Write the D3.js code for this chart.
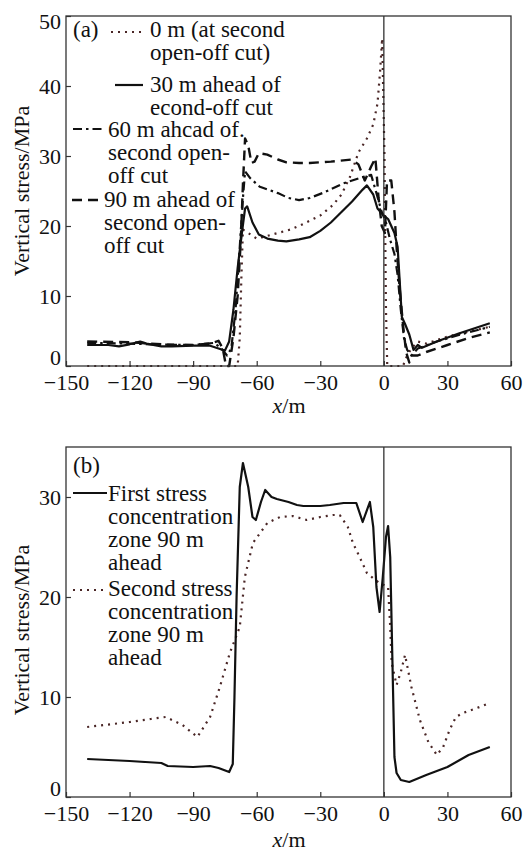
<!DOCTYPE html>
<html>
<head>
<meta charset="utf-8">
<script src="https://cdn.jsdelivr.net/npm/d3@7/dist/d3.min.js"></script>
<style>
    body { margin: 0; background: #fff; }
    text { font-family: "Liberation Serif", "Times New Roman", serif; fill: #111; }
</style>
</head>
<body>
<svg id="chart" width="529" height="852"></svg>
<script>
const xTicks = [-150, -120, -90, -60, -30, 0, 30, 60];
const yTicksA = [0, 10, 20, 30, 40, 50];
const yTicksB = [0, 10, 20, 30];

// panel (a)
const at0m = [[-140,0],[-120,0],[-100,0],[-80,0],[-69,0],[-68,4],[-67.3,12],[-66.5,19.5],[-64,19],[-60,18.2],[-56,18.5],[-50,19],[-44,19.5],[-38,20.3],[-30,21.5],[-24,23],[-20,24.5],[-16,27],[-12,30.5],[-8,32.5],[-5,34.5],[-3,37.5],[-1.8,42],[-0.8,46.8],[0.3,30],[1,8],[1.6,0],[9,0],[11,1.5],[13,2.5],[16,3.5],[20,3.2],[30,4.2],[40,4.9],[50,5.6]];
const at30m = [[-140,3.0],[-130,3.0],[-125,2.8],[-120,3.1],[-115,3.5],[-112,3.2],[-105,2.8],[-100,2.8],[-90,2.9],[-82,2.9],[-78,2.5],[-75,2.2],[-73,3.5],[-71,8],[-69,14],[-67,19],[-65.5,22.5],[-64.5,22.8],[-62,20.5],[-59,18.8],[-55,18.2],[-50,17.9],[-46,17.8],[-40,18.1],[-35,18.4],[-30,19.3],[-25,20.5],[-20,22],[-15,23.5],[-10,25.2],[-8,25.8],[-5,24.5],[-3,22.5],[0,21.5],[2,21],[5,19],[6.5,17],[7.5,12],[8.5,7],[10,6],[12,4.5],[14,2.3],[16,3],[18,2.6],[25,3.5],[35,4.6],[45,5.6],[50,6.1]];
const at60m = [[-140,3.3],[-120,3.2],[-110,3.1],[-90,3.0],[-80,3.3],[-77,2.6],[-74,1.5],[-72,2.5],[-70,8],[-68,17],[-66.5,24],[-65.5,27.8],[-63,26.8],[-58.5,25.6],[-50,24.7],[-45,24],[-40,23.7],[-35,24],[-29,24.7],[-19,26.1],[-10,27],[-6,27.3],[-3.5,24.7],[-1,22],[1,20.5],[3,18],[5,16],[6.5,13],[8,8],[9.5,4],[11,2.3],[13,1.5],[16,2.5],[25,3.5],[35,4.4],[50,5.6]];
const at90m = [[-140,3.5],[-120,3.4],[-100,3.0],[-90,3.0],[-82,3.2],[-78,3.6],[-76,2.5],[-74.5,0],[-73,0],[-71,4],[-69,10],[-67.5,18],[-66.5,26],[-65.5,32.5],[-64,31.5],[-62.5,29],[-61,29.2],[-59,30.4],[-55,30.2],[-50,29.5],[-46,29.1],[-40,29],[-35,29],[-25,29.2],[-15,29.5],[-12,28.8],[-9,26.5],[-6,28.5],[-4,29.7],[-2.5,24],[-1,20],[0.5,19],[1.5,26.5],[3.5,26.5],[5,22],[6,17],[7.5,11],[9,6],[10.5,2],[12,0.5],[13,1.5],[16,1.5],[20,2],[30,3],[40,4],[50,4.8]];

// panel (b)
const bFirst = [[-140,3.8],[-120,3.6],[-105,3.4],[-102,3.1],[-90,3.0],[-82,3.1],[-78,2.9],[-73,2.5],[-71.3,3.3],[-70.5,10],[-69.5,20],[-68,31],[-66.5,33.4],[-64,31],[-62,28],[-60.4,27.7],[-58,29.5],[-56,30.7],[-53,30],[-50.5,29.8],[-45,29.5],[-41,29.2],[-38,29.1],[-30,29.1],[-25.5,29.2],[-19,29.4],[-13,29.4],[-10,27.5],[-6.6,29.5],[-5,27],[-3.5,21],[-2,18.5],[-0.5,22],[1,26],[2,27.1],[3,24],[4,14],[5,4],[6,2.4],[8,1.7],[12,1.5],[20,2.2],[30,3.0],[40,4.2],[50,5.0]];
const bSecond = [[-140,7.0],[-120,7.5],[-110,7.8],[-103,8.0],[-95,7.2],[-88,6.0],[-82,8.0],[-77.4,11],[-72.7,14.4],[-68,17],[-65.6,22],[-61.8,25.4],[-55,27.4],[-49,28.0],[-43,28.1],[-36.4,27.7],[-30,28],[-24,28.2],[-20.8,28.2],[-17,27],[-14.6,25.4],[-11,23.8],[-8,22.4],[-4,21.7],[-2,21.4],[2,21],[3,17],[3.7,13.4],[6,11.2],[8,12.5],[10,14.2],[13,11],[17,7.7],[21,5.5],[25,4.2],[28,5],[31,6.7],[34,8],[37.4,8.4],[44,8.9],[50,9.4]];

const legendA = [
    { lines: ["0 m (at second", "open-off cut)"], style: "dotted", x1: 111, x2: 143, ly: 32, tx: 150, ty: 37 },
    { lines: ["30 m ahead of", "econd-off cut"], style: "solid", x1: 115, x2: 143, ly: 85, tx: 150, ty: 92 },
    { lines: ["60 m ahcad of.", "second open-", "off cut"], style: "dashdot", x1: 73, x2: 105, ly: 129, tx: 108, ty: 137 },
    { lines: ["90 m ahead of", "second open-", "off cut"], style: "dashed", x1: 72, x2: 103, ly: 200, tx: 104, ty: 207 }
];
const legendB = [
    { lines: ["First stress", "concentration", "zone 90 m", "ahead"], style: "solid", x1: 73, x2: 107, ly: 493, tx: 108, ty: 501 },
    { lines: ["Second stress", "concentration", "zone 90 m", "ahead"], style: "dotted", x1: 73, x2: 105, ly: 590, tx: 108, ty: 596 }
];

const styles = {
    solid:   { color: "#111", width: 2.2, dash: null },
    dotted:  { color: "#4a2626", width: 2.2, dash: "2,5" },
    dashdot: { color: "#111", width: 2.2, dash: "9,4,2.5,4" },
    dashed:  { color: "#111", width: 2.4, dash: "10,6" }
};

const svg = d3.select("#chart");
const left = 66, right = 511;
const x = d3.scaleLinear().domain([-150, 60]).range([left, right]);

function drawPanel(cfg) {
    const y = d3.scaleLinear().domain(cfg.yDomain).range([cfg.bottom, cfg.top]);
    const g = svg.append("g");

    const line = d3.line()
        .x(d => x(d[0]))
        .y(d => y(d[1]));

    cfg.series.forEach(s => {
        const st = styles[s.style];
        g.append("path")
            .datum(s.data)
            .attr("fill", "none")
            .attr("stroke", st.color)
            .attr("stroke-width", st.width)
            .attr("stroke-dasharray", st.dash)
            .attr("stroke-linejoin", "round")
            .attr("d", line);
    });

    // x = 0 line
    g.append("line")
        .attr("x1", x(0)).attr("x2", x(0))
        .attr("y1", cfg.top).attr("y2", cfg.bottom)
        .attr("stroke", "#222").attr("stroke-width", 1.2);

    // frame
    g.append("rect")
        .attr("x", left).attr("y", cfg.top)
        .attr("width", right - left).attr("height", cfg.bottom - cfg.top)
        .attr("fill", "none").attr("stroke", "#333").attr("stroke-width", 1.3);

    const xAxis = g.append("g")
        .attr("transform", `translate(0, ${cfg.bottom})`)
        .call(d3.axisBottom(x).tickValues(xTicks).tickSizeInner(-5).tickSizeOuter(0).tickFormat(d => d < 0 ? "\u2212" + Math.abs(d) : d));
    xAxis.select(".domain").remove();
    xAxis.selectAll("line").attr("stroke", "#333").attr("stroke-width", 1.2);
    xAxis.selectAll("text")
        .attr("y", 0).attr("dy", null)
        .attr("transform", "translate(0, 24)")
        .style("font-size", "22px").attr("fill", "#111");

    const yMax = cfg.yDomain[1];
    const yAxis = g.append("g")
        .attr("transform", `translate(${left}, 0)`)
        .call(d3.axisLeft(y).tickValues(cfg.yTicks).tickSizeInner(-5).tickSizeOuter(0));
    yAxis.select(".domain").remove();
    yAxis.selectAll("line").attr("stroke", "#333").attr("stroke-width", 1.2);
    yAxis.selectAll("text")
        .attr("x", -5)
        .attr("y", d => d === 0 ? -9 : (d === yMax ? 5 : 0))
        .style("font-size", "22px").attr("fill", "#111");

    g.append("text")
        .attr("x", 73).attr("y", cfg.tagY)
        .style("font-size", "23px")
        .text(cfg.tag);

    cfg.legend.forEach(e => {
        const st = styles[e.style];
        g.append("line")
            .attr("x1", e.x1).attr("x2", e.x2)
            .attr("y1", e.ly).attr("y2", e.ly)
            .attr("stroke", st.color)
            .attr("stroke-width", st.width)
            .attr("stroke-dasharray", st.dash);
        e.lines.forEach((t, i) => {
            g.append("text")
                .attr("x", e.tx)
                .attr("y", e.ty + i * 23)
                .style("font-size", "23px")
                .text(t);
        });
    });

    g.append("text")
        .attr("transform", `translate(29, ${cfg.labelY}) rotate(-90)`)
        .attr("text-anchor", "middle")
        .style("font-size", "22px")
        .text("Vertical stress/MPa");

    const xl = g.append("text")
        .attr("x", 289).attr("y", cfg.xLabelY)
        .attr("text-anchor", "middle")
        .style("font-size", "22px");
    xl.append("tspan").style("font-style", "italic").text("x");
    xl.append("tspan").text("/m");
}

drawPanel({
    top: 16, bottom: 366, yDomain: [0, 50], yTicks: yTicksA,
    tag: "(a)", tagY: 37, labelY: 191, xLabelY: 413,
    series: [
        { data: at0m, style: "dotted" },
        { data: at30m, style: "solid" },
        { data: at60m, style: "dashdot" },
        { data: at90m, style: "dashed" }
    ],
    legend: legendA
});

drawPanel({
    top: 447, bottom: 797, yDomain: [0, 35], yTicks: yTicksB,
    tag: "(b)", tagY: 473, labelY: 630, xLabelY: 847,
    series: [
        { data: bSecond, style: "dotted" },
        { data: bFirst, style: "solid" }
    ],
    legend: legendB
});
</script>
</body>
</html>
